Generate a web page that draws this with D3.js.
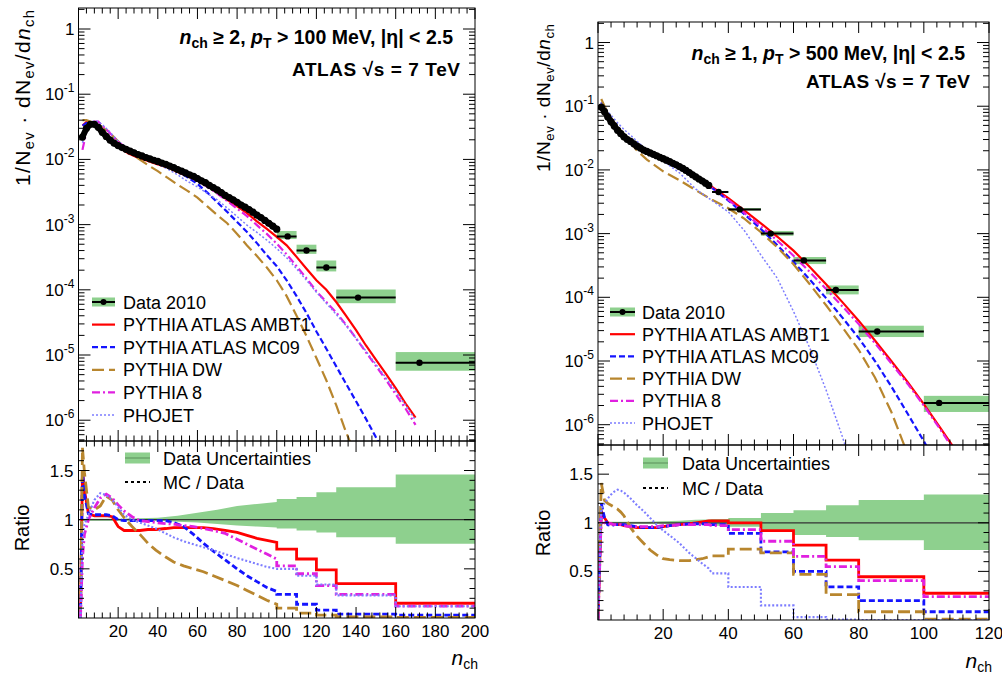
<!DOCTYPE html>
<html><head><meta charset="utf-8">
<script src="https://cdn.jsdelivr.net/npm/d3@7/dist/d3.min.js"></script>
<style>
html,body{margin:0;padding:0;background:#fff;}
svg{display:block;}
</style></head><body>
<svg id="chart" width="1002" height="675"></svg>
<script>
// ================= LEFT PANEL DATA: n_ch >= 2, pT > 100 MeV =================
const dataNL = [2,4,6,8,10,12,14,16,18,20,22,24,26,28,30,32,34,36,38,40,42,44,46,48,50,52,54,56,58,60,62,64,66,68,70,72,74,76,78,80,82,84,86,88,90,92,94,96,98,100];
const dataVL = [0.022,0.030,0.0345,0.0345,0.031,0.026,0.0225,0.0197,0.0177,0.0163,
  0.0152,0.0143,0.0134,0.0126,0.0119,0.0113,0.0107,0.0102,0.0097,0.0093,
  0.0088,0.0084,0.0079,0.0075,0.0070,0.0066,0.0062,0.0058,0.0055,0.0051,
  0.0047,0.0044,0.0040,0.0037,0.0034,0.0031,0.0028,0.0026,0.0024,0.0022,
  0.0020,0.00185,0.0017,0.00155,0.0014,0.00128,0.00116,0.00105,0.00095,0.00085];
const binEdgesL = [100,110,120,130,160,200];
const binMeanL = [105.5,115,125,141,172];
const binValL = [6.6e-4,4.0e-4,2.2e-4,7.6e-5,7.6e-6];

const mcNL = [2,4,6,8,10,12,15,20,25,30,35,40,45,50,55,60,65,70,75,80,85,90,95,100,105,110,115,120,125,130,135,140,145,150,155,160,165,170];
const mcAMBT1L = [0.033,0.0375,0.036,0.036,0.033,0.028,0.022,0.0157,0.0124,0.0106,
  0.0095,0.0084,0.0075,0.0064,0.0055,0.0047,0.0039,0.0031,0.0024,0.0019,
  0.0015,0.00112,0.00086,0.00065,4.8e-4,3.2e-4,2.1e-4,1.4e-4,1.0e-4,6.5e-5,
  4.0e-5,2.4e-5,1.4e-5,8.5e-6,5.2e-6,3.1e-6,1.8e-6,1.1e-6];
const mcMC09L = [0.033,0.036,0.0366,0.0365,0.0336,0.028,0.0225,0.0163,0.0137,0.0118,
  0.0104,0.0092,0.0080,0.0067,0.0053,0.0042,0.0031,0.0022,0.00157,0.0011,
  0.00077,0.00052,0.00034,0.00023,1.4e-4,8e-5,4.4e-5,2.3e-5,1.25e-5,6.7e-6,
  3.6e-6,1.95e-6,1.05e-6,5.5e-7,3e-7,null,null,null];
const mcDWL = [0.040,0.040,0.038,0.037,0.035,0.031,0.027,0.019,0.0135,0.0104,
  0.0082,0.0066,0.0052,0.0041,0.0033,0.0026,0.0019,0.0014,0.00105,0.00072,
  0.00048,0.00033,0.00022,0.00014,8e-5,4.0e-5,1.95e-5,9e-6,4.1e-6,1.7e-6,
  6.5e-7,2.8e-7,null,null,null,null,null,null];
const mcPY8L = [0.014,0.027,0.036,0.038,0.038,0.033,0.027,0.0185,0.0145,0.012,
  0.0103,0.009,0.0079,0.0066,0.0056,0.0047,0.0038,0.0030,0.0023,0.00176,
  0.00135,0.00098,0.00072,0.00051,3.5e-4,2.3e-4,1.5e-4,9.5e-5,6.5e-5,4.5e-5,
  2.9e-5,1.8e-5,1.1e-5,6.8e-6,4.2e-6,2.5e-6,1.5e-6,8.5e-7];
const mcPHOL = [0.018,0.030,0.037,0.039,0.038,0.034,0.028,0.019,0.0145,0.0118,
  0.0099,0.0085,0.0071,0.0058,0.0046,0.0038,0.0030,0.0024,0.0018,0.00133,
  0.00098,0.00076,0.00058,0.00043,3.1e-4,2.1e-4,1.4e-4,9.2e-5,6.2e-5,4.2e-5,
  2.8e-5,1.8e-5,1.15e-5,7.2e-6,4.5e-6,2.8e-6,1.7e-6,1.0e-6];

const ratioNL = [1,2,3,5,8,11,14,17,20,23,27,31,35,39,44,48,53,58,63,68,74,80,85,90,95,100];
const rAMBT1L = [0,1.50,1.30,1.06,1.04,1.04,1.04,1.03,0.93,0.89,0.89,0.89,0.90,0.90,0.91,0.92,0.92,0.92,0.92,0.91,0.89,0.87,0.84,0.81,0.79,0.77];
const rMC09L  = [0,1.50,1.25,1.06,1.05,1.05,1.05,1.04,1.00,0.99,0.99,0.99,0.99,0.99,0.99,0.97,0.93,0.85,0.76,0.68,0.59,0.50,0.43,0.37,0.31,0.27];
const rDWL    = [0,1.73,1.48,1.13,1.10,1.14,1.24,1.20,1.10,1.02,0.93,0.85,0.76,0.69,0.62,0.57,0.53,0.50,0.47,0.43,0.38,0.33,0.28,0.23,0.18,0.14];
const rPY8L   = [0,0.62,0.85,1.00,1.12,1.22,1.26,1.22,1.15,1.09,1.03,0.99,0.98,0.97,0.96,0.955,0.94,0.93,0.91,0.89,0.86,0.80,0.75,0.70,0.65,0.60];
const rPHOL   = [0,0.80,0.95,1.05,1.20,1.27,1.25,1.20,1.13,1.05,1.00,0.97,0.94,0.91,0.86,0.82,0.78,0.75,0.72,0.69,0.65,0.61,0.58,0.55,0.52,0.50];
const rBinAMBT1L = [0.70,0.60,0.49,0.35,0.15];
const rBinMC09L  = [0.24,0.14,0.08,0.04,0.03];
const rBinDWL    = [0.10,0.05,0.03,0.01,0.005];
const rBinPY8L   = [0.53,0.45,0.33,0.24,0.12];
const rBinPHOL   = [0.50,0.43,0.34,0.23,0.12];

const bandNL  = [2,10,20,30,40,50,60,70,80,90,100];
const bandHiL = [1.01,1.01,1.01,1.015,1.02,1.04,1.07,1.10,1.14,1.16,1.18];
const bandLoL = [0.99,0.99,0.99,0.99,0.99,0.98,0.97,0.955,0.94,0.93,0.92];
const bandBinHiL = [1.21,1.23,1.28,1.33,1.46];
const bandBinLoL = [0.91,0.89,0.87,0.82,0.755];

// ================= RIGHT PANEL DATA: n_ch >= 1, pT > 500 MeV =================
const dataNR = [1,2,3,4,5,6,7,8,9,10,11,12,13,14,15,16,17,18,19,20,21,22,23,24,25,26,27,28,29,30,31,32,33,34];
const dataVR = [0.097,0.082,0.068,0.057,0.049,0.042,0.037,0.033,0.030,0.028,
  0.0257,0.0236,0.022,0.0205,0.0195,0.0185,0.0176,0.0167,0.0158,0.015,
  0.0142,0.0135,0.0127,0.012,0.0113,0.0106,0.0098,0.0091,0.0084,0.0078,
  0.0072,0.0067,0.0062,0.0057];
const binEdgesR = [35,40,50,60,70,80,100,120];
const binMeanR = [37,43.5,53,63.2,73,85.7,104.7];
const binValR = [0.0045,0.0024,0.001,3.8e-4,1.3e-4,2.9e-5,2.2e-6];

const mcNR = [1,2,3,4,5,6,8,10,12,15,20,25,30,35,40,45,50,55,60,65,70,75,80,85,90,95,100,105,110,115,120];
const mcAMBT1R = [0.108,0.086,0.068,0.056,0.048,0.041,0.032,0.027,0.0226,0.0185,
  0.0144,0.0112,0.0078,0.0054,0.0036,0.0023,0.00145,9e-4,5.4e-4,3.0e-4,
  1.6e-4,8.4e-5,4.3e-5,2.1e-5,1.0e-5,4.7e-6,2.1e-6,9e-7,3.8e-7,1.6e-7,6.5e-8];
const mcMC09R = [0.115,0.087,0.069,0.056,0.048,0.041,0.0325,0.0275,0.023,0.019,
  0.0146,0.0112,0.0078,0.0052,0.0033,0.0020,0.00118,6.6e-4,3.6e-4,1.9e-4,
  9.7e-5,4.8e-5,2.3e-5,1.0e-5,4e-6,1.5e-6,5.5e-7,1.9e-7,6e-8,null,null];
const mcDWR = [0.13,0.10,0.08,0.066,0.056,0.048,0.036,0.0266,0.020,0.0145,
  0.0095,0.0069,0.0048,0.0034,0.0025,0.0017,0.00105,6.1e-4,3.3e-4,1.6e-4,
  7.5e-5,3.4e-5,1.5e-5,5.5e-6,1.6e-6,3.5e-7,null,null,null,null,null];
const mcPY8R = [0.10,0.083,0.068,0.057,0.049,0.042,0.033,0.0275,0.0228,0.0188,
  0.0145,0.0112,0.0077,0.0052,0.0034,0.0021,0.0013,7.8e-4,4.5e-4,2.5e-4,
  1.35e-4,7.2e-5,3.8e-5,1.9e-5,9.2e-6,4.4e-6,2e-6,8.5e-7,3.5e-7,1.4e-7,null];
const mcPHOR = [0.11,0.095,0.083,0.072,0.063,0.055,0.043,0.035,0.028,0.0205,
  0.0138,0.0090,0.0050,0.0033,0.0022,0.0011,4.6e-4,2e-4,6e-5,1.6e-5,
  3.5e-6,6.5e-7,1e-7,null,null,null,null,null,null,null,null];

const ratioNR = [0,1,2,3,4,5,6,7,8,10,12,14,16,18,20,22,25,28,30,32,34];
const rAMBT1R = [0,1.12,1.05,1.00,0.99,0.98,0.98,0.98,0.97,0.96,0.95,0.95,0.95,0.95,0.96,0.97,0.98,0.99,1.00,1.01,1.02];
const rMC09R  = [0,1.20,1.05,0.98,0.97,0.98,0.98,0.98,0.98,0.97,0.96,0.95,0.95,0.95,0.96,0.97,0.98,0.99,0.99,0.99,0.99];
const rDWR    = [0,1.41,1.23,1.20,1.18,1.16,1.14,1.11,1.07,0.95,0.86,0.79,0.72,0.67,0.63,0.62,0.61,0.61,0.62,0.63,0.65];
const rPY8R   = [0,1.05,1.00,0.99,0.99,0.98,0.98,0.98,0.97,0.96,0.96,0.96,0.96,0.96,0.97,0.97,0.98,0.98,0.98,0.98,0.98];
const rPHOR   = [0,1.15,1.20,1.25,1.29,1.32,1.34,1.33,1.31,1.25,1.18,1.12,1.05,0.98,0.92,0.87,0.79,0.69,0.635,0.58,0.53];
const rBinAMBT1R = [1.02,1.00,0.92,0.77,0.615,0.445,0.275];
const rBinMC09R  = [0.98,0.89,0.70,0.50,0.34,0.20,0.085];
const rBinDWR    = [0.66,0.73,0.69,0.47,0.26,0.085,0.01];
const rBinPY8R   = [0.97,0.93,0.81,0.655,0.55,0.405,0.24];
const rBinPHOR   = [0.48,0.34,0.15,0.03,0.004,0,0];

const bandNR  = [1,5,10,15,20,25,30,34];
const bandHiR = [1.01,1.01,1.01,1.01,1.015,1.02,1.03,1.035];
const bandLoR = [0.99,0.99,0.99,0.99,0.99,0.985,0.98,0.975];
const bandBinHiR = [1.04,1.05,1.10,1.13,1.18,1.235,1.29];
const bandBinLoR = [0.97,0.96,0.926,0.875,0.855,0.82,0.72];

// ================= LABELS =================
const seriesKeys = ["AMBT1","MC09","DW","PY8","PHO"];
const seriesNames = ["PYTHIA ATLAS AMBT1","PYTHIA ATLAS MC09","PYTHIA DW","PYTHIA 8","PHOJET"];
const dataLabel = "Data 2010";
const ratioLegendLabels = ["Data Uncertainties","MC / Data"];
const yTickExps = [0,-1,-2,-3,-4,-5,-6];
const ratioTickLabels = [0.5,1,1.5];

// ================= STYLES =================
const FONT = "'Liberation Sans', Arial, Helvetica, sans-serif";
const GREEN = "#8ed08e";
const styles = {
  AMBT1:{color:"#ff0000", width:2.2, dash:null},
  MC09:{color:"#1414ff", width:2.2, dash:"6,3"},
  DW:{color:"#b8862e", width:2.2, dash:"12,5"},
  PY8:{color:"#e020e0", width:2.2, dash:"8,3,2,3"},
  PHO:{color:"#7d7dff", width:1.5, dash:"2,2"}
};

const svg = d3.select("#chart").style("font-family", FONT);
const defs = svg.append("defs");

function drawSide(c){
  const g = svg.append("g");
  const x = d3.scaleLinear().domain(c.xDomain).range([c.xL, c.xR]);
  const y = d3.scaleLog().domain([4.8e-7, 2.1]).range([c.yMid, c.yTop]);
  const yr = d3.scaleLinear().domain([0, 1.8]).range([c.yBot, c.yMid]);

  const cm = "clipM" + c.id, cr = "clipR" + c.id;
  defs.append("clipPath").attr("id", cm).append("rect")
    .attr("x", c.xL).attr("y", c.yTop).attr("width", c.xR - c.xL).attr("height", c.yMid - c.yTop);
  defs.append("clipPath").attr("id", cr).append("rect")
    .attr("x", c.xL).attr("y", c.yMid).attr("width", c.xR - c.xL).attr("height", c.yBot - c.yMid);

  // ---------- main panel ----------
  const gm = g.append("g").attr("clip-path", `url(#${cm})`);
  c.binVal.forEach((v, i) => {
    gm.append("rect")
      .attr("x", x(c.binEdges[i])).attr("width", x(c.binEdges[i+1]) - x(c.binEdges[i]))
      .attr("y", y(v * c.bandBinHi[i])).attr("height", y(v * c.bandBinLo[i]) - y(v * c.bandBinHi[i]))
      .attr("fill", GREEN);
  });
  const lineM = d3.line().defined(d => d[1] != null && d[1] > 0).x(d => x(d[0])).y(d => y(d[1]));
  seriesKeys.forEach(k => {
    const s = styles[k];
    const pts = c.mcN.map((n, i) => [n, c.mc[k][i]]);
    gm.append("path").attr("d", lineM(pts)).attr("fill", "none")
      .attr("stroke", s.color).attr("stroke-width", s.width).attr("stroke-dasharray", s.dash);
  });
  const dpts = c.dataN.map((n, i) => [n, c.dataV[i]]);
  gm.append("path").attr("d", lineM(dpts)).attr("fill", "none").attr("stroke", "#000").attr("stroke-width", 6);
  gm.selectAll(null).data(dpts).enter().append("circle")
    .attr("cx", d => x(d[0])).attr("cy", d => y(d[1])).attr("r", 3.6).attr("fill", "#000");
  c.binVal.forEach((v, i) => {
    gm.append("line").attr("x1", x(c.binEdges[i])).attr("x2", x(c.binEdges[i+1]))
      .attr("y1", y(v)).attr("y2", y(v)).attr("stroke", "#000").attr("stroke-width", 2);
    gm.append("circle").attr("cx", x(c.binMean[i])).attr("cy", y(v)).attr("r", 3.2).attr("fill", "#000");
  });

  // ---------- ratio panel ----------
  const gr = g.append("g").attr("clip-path", `url(#${cr})`);
  const bpts = c.bandN.map((n, i) => [n, c.bandHi[i], c.bandLo[i]]);
  c.bandBinHi.forEach((h, i) => { bpts.push([c.binEdges[i], h, c.bandBinLo[i]]); bpts.push([c.binEdges[i+1], h, c.bandBinLo[i]]); });
  gr.append("path").attr("d", d3.area().x(d => x(d[0])).y0(d => yr(d[2])).y1(d => yr(d[1]))(bpts)).attr("fill", GREEN);
  gr.append("line").attr("x1", c.xL).attr("x2", c.xR).attr("y1", yr(1)).attr("y2", yr(1)).attr("stroke", "#333").attr("stroke-width", 1.3);
  const lineR = d3.line().x(d => x(d[0])).y(d => yr(d[1]));
  seriesKeys.forEach(k => {
    const s = styles[k];
    const pts = c.ratioN.map((n, i) => [n, c.ratio[k][i]]);
    c.ratioBin[k].forEach((b, i) => { pts.push([c.binEdges[i], b]); pts.push([c.binEdges[i+1], b]); });
    gr.append("path").attr("d", lineR(pts)).attr("fill", "none")
      .attr("stroke", s.color).attr("stroke-width", s.width + 0.6).attr("stroke-dasharray", s.dash);
  });

  // ---------- frames ----------
  g.append("rect").attr("x", c.xL).attr("y", c.yTop).attr("width", c.xR - c.xL).attr("height", c.yMid - c.yTop)
    .attr("fill", "none").attr("stroke", "#000").attr("stroke-width", 1);
  g.append("rect").attr("x", c.xL).attr("y", c.yMid).attr("width", c.xR - c.xL).attr("height", c.yBot - c.yMid)
    .attr("fill", "none").attr("stroke", "#000").attr("stroke-width", 1);

  // ---------- ticks ----------
  const tk = g.append("g").attr("stroke", "#000").attr("stroke-width", 1);
  const nMinor = Math.round((c.xDomain[1] - c.xDomain[0]) / c.xMinor);
  for (let i = 0; i <= nMinor; i++) {
    const v = c.xDomain[0] + i * c.xMinor;
    const major = Math.abs(v / c.xMajor - Math.round(v / c.xMajor)) < 1e-6;
    const L = major ? 11 : 5.5, px = x(v);
    [[c.yTop, 1], [c.yMid, -1], [c.yMid, 1], [c.yBot, -1]].forEach(([yy, dir]) => {
      tk.append("line").attr("x1", px).attr("x2", px).attr("y1", yy).attr("y2", yy + dir * L);
    });
  }
  for (let e = -7; e <= 0; e++) for (let m = 1; m <= 9; m++) {
    const v = m * Math.pow(10, e);
    if (v < 4.8e-7 || v > 2.1) continue;
    const L = m === 1 ? 12 : 6, py = y(v);
    tk.append("line").attr("x1", c.xL).attr("x2", c.xL + L).attr("y1", py).attr("y2", py);
    tk.append("line").attr("x1", c.xR).attr("x2", c.xR - L).attr("y1", py).attr("y2", py);
  }
  for (let k = 1; k <= 18; k++) {
    const v = k / 10, L = k % 5 === 0 ? 11 : 5.5, py = yr(v);
    tk.append("line").attr("x1", c.xL).attr("x2", c.xL + L).attr("y1", py).attr("y2", py);
    tk.append("line").attr("x1", c.xR).attr("x2", c.xR - L).attr("y1", py).attr("y2", py);
  }

  // ---------- tick labels ----------
  yTickExps.forEach(e => {
    const t = g.append("text").attr("x", c.xL - 4).attr("y", y(Math.pow(10, e)) + 6)
      .attr("text-anchor", "end").attr("font-size", 17).attr("fill", "#000");
    if (e === 0) t.text("1");
    else { t.append("tspan").text("10"); t.append("tspan").attr("font-size", 12).attr("dy", -8).text(String(e)); }
  });
  ratioTickLabels.forEach(v => {
    g.append("text").attr("x", c.xL - 5).attr("y", yr(v) + 6).attr("text-anchor", "end")
      .attr("font-size", 17).attr("fill", "#000").text(String(v));
  });
  for (let v = c.xMajor; v <= c.xDomain[1] + 1e-6; v += c.xMajor) {
    g.append("text").attr("x", x(v)).attr("y", c.yBot + 19).attr("text-anchor", "middle")
      .attr("font-size", 17).attr("fill", "#000").text(String(v));
  }

  // ---------- axis titles ----------
  const yt = g.append("text").attr("transform", `translate(${c.ytX},${c.ytY}) rotate(-90)`)
    .attr("text-anchor", "end").attr("font-size", c.ytFS).attr("fill", "#000")
    .attr("textLength", c.ytLen).attr("lengthAdjust", "spacing");
  yt.append("tspan").text("1/N");
  yt.append("tspan").attr("font-size", c.ytFS * 0.7).attr("dy", 4).text("ev");
  yt.append("tspan").attr("dy", -4).text(" \u00B7 dN");
  yt.append("tspan").attr("font-size", c.ytFS * 0.7).attr("dy", 4).text("ev");
  yt.append("tspan").attr("dy", -4).text("/d");
  yt.append("tspan").attr("font-style", "italic").text("n");
  yt.append("tspan").attr("font-size", c.ytFS * 0.7).attr("dy", 4).text("ch");

  g.append("text").attr("transform", `translate(${c.rtX},${c.rtY}) rotate(-90)`)
    .attr("text-anchor", "middle").attr("font-size", 20).attr("fill", "#000").text("Ratio");

  const xt = g.append("text").attr("x", c.xtX).attr("y", c.xtY).attr("text-anchor", "end")
    .attr("font-size", 21).attr("fill", "#000");
  xt.append("tspan").attr("font-style", "italic").text("n");
  xt.append("tspan").attr("font-size", 14).attr("dy", 4).text("ch");

  // ---------- header ----------
  const h1 = g.append("text").attr("x", c.h1X).attr("y", c.h1Y).attr("text-anchor", "end")
    .attr("font-size", 19.5).attr("font-weight", "bold").attr("fill", "#000");
  h1.append("tspan").attr("font-style", "italic").text("n");
  h1.append("tspan").attr("font-size", 14).attr("dy", 4).text("ch");
  h1.append("tspan").attr("dy", -4).text(` \u2265 ${c.nMin}, `);
  h1.append("tspan").attr("font-style", "italic").text("p");
  h1.append("tspan").attr("font-size", 14).attr("dy", 4).text("T");
  h1.append("tspan").attr("dy", -4).text(` > ${c.ptMin} MeV, |\u03B7| < 2.5`);
  g.append("text").attr("x", c.h2X).attr("y", c.h2Y).attr("text-anchor", "end")
    .attr("font-size", 19).attr("font-weight", "bold").attr("fill", "#000")
    .attr("textLength", c.h2Len).attr("lengthAdjust", "spacing").text("ATLAS \u221As = 7 TeV");

  // ---------- main legend ----------
  const lg = g.append("g");
  const ly0 = c.legY, ldy = c.legDY, lx0 = c.legX0, lx1 = c.legX1, ltx = c.legTX;
  lg.append("rect").attr("x", lx0).attr("y", ly0 - 4.5).attr("width", lx1 - lx0).attr("height", 9).attr("fill", GREEN);
  lg.append("line").attr("x1", lx0).attr("x2", lx1).attr("y1", ly0).attr("y2", ly0).attr("stroke", "#000").attr("stroke-width", 2);
  lg.append("circle").attr("cx", (lx0 + lx1) / 2).attr("cy", ly0).attr("r", 3).attr("fill", "#000");
  lg.append("text").attr("x", ltx).attr("y", ly0 + 6.5).attr("font-size", 18).attr("fill", "#000").text(dataLabel);
  seriesKeys.forEach((k, i) => {
    const s = styles[k], yy = ly0 + (i + 1) * ldy;
    lg.append("line").attr("x1", lx0).attr("x2", lx1).attr("y1", yy).attr("y2", yy)
      .attr("stroke", s.color).attr("stroke-width", s.width).attr("stroke-dasharray", s.dash);
    lg.append("text").attr("x", ltx).attr("y", yy + 6.5).attr("font-size", 18).attr("fill", "#000").text(seriesNames[i]);
  });

  // ---------- ratio legend ----------
  const rl = g.append("g");
  rl.append("rect").attr("x", c.rlX0).attr("y", c.rlY - 5.5).attr("width", c.rlX1 - c.rlX0).attr("height", 11).attr("fill", GREEN);
  rl.append("line").attr("x1", c.rlX0).attr("x2", c.rlX1).attr("y1", c.rlY).attr("y2", c.rlY).attr("stroke", "#5a8f5a").attr("stroke-width", 1);
  rl.append("text").attr("x", c.rlTX).attr("y", c.rlY + 6.5).attr("font-size", 18).attr("fill", "#000").text(ratioLegendLabels[0]);
  rl.append("line").attr("x1", c.rlX0).attr("x2", c.rlX1).attr("y1", c.rlY + c.rlDY).attr("y2", c.rlY + c.rlDY)
    .attr("stroke", "#000").attr("stroke-width", 2).attr("stroke-dasharray", "3,3");
  rl.append("text").attr("x", c.rlTX).attr("y", c.rlY + c.rlDY + 6.5).attr("font-size", 18).attr("fill", "#000").text(ratioLegendLabels[1]);
}

drawSide({
  id: "L", xDomain: [0, 200], xL: 78.5, xR: 475, yTop: 8, yMid: 441, yBot: 618,
  xMajor: 20, xMinor: 4,
  dataN: dataNL, dataV: dataVL, binEdges: binEdgesL, binMean: binMeanL, binVal: binValL,
  mcN: mcNL, mc: {AMBT1: mcAMBT1L, MC09: mcMC09L, DW: mcDWL, PY8: mcPY8L, PHO: mcPHOL},
  ratioN: ratioNL, ratio: {AMBT1: rAMBT1L, MC09: rMC09L, DW: rDWL, PY8: rPY8L, PHO: rPHOL},
  ratioBin: {AMBT1: rBinAMBT1L, MC09: rBinMC09L, DW: rBinDWL, PY8: rBinPY8L, PHO: rBinPHOL},
  bandN: bandNL, bandHi: bandHiL, bandLo: bandLoL, bandBinHi: bandBinHiL, bandBinLo: bandBinLoL,
  ytX: 30, ytY: 10, ytFS: 21, ytLen: 176, rtX: 29, rtY: 528, xtX: 478, xtY: 665,
  h1X: 453, h1Y: 44, h2X: 460, h2Y: 76, h2Len: 168, nMin: 2, ptMin: 100,
  legY: 302, legDY: 22.6, legX0: 92, legX1: 115, legTX: 123,
  rlX0: 125, rlX1: 150, rlTX: 163, rlY: 458, rlDY: 24
});
drawSide({
  id: "R", xDomain: [0, 120], xL: 598, xR: 989, yTop: 22, yMid: 445, yBot: 620,
  xMajor: 20, xMinor: 4,
  dataN: dataNR, dataV: dataVR, binEdges: binEdgesR, binMean: binMeanR, binVal: binValR,
  mcN: mcNR, mc: {AMBT1: mcAMBT1R, MC09: mcMC09R, DW: mcDWR, PY8: mcPY8R, PHO: mcPHOR},
  ratioN: ratioNR, ratio: {AMBT1: rAMBT1R, MC09: rMC09R, DW: rDWR, PY8: rPY8R, PHO: rPHOR},
  ratioBin: {AMBT1: rBinAMBT1R, MC09: rBinMC09R, DW: rBinDWR, PY8: rBinPY8R, PHO: rBinPHOR},
  bandN: bandNR, bandHi: bandHiR, bandLo: bandLoR, bandBinHi: bandBinHiR, bandBinLo: bandBinLoR,
  ytX: 550, ytY: 24, ytFS: 19, ytLen: 148, rtX: 550, rtY: 533, xtX: 992, xtY: 668,
  h1X: 965, h1Y: 60, h2X: 970, h2Y: 88, h2Len: 164, nMin: 1, ptMin: 500,
  legY: 312, legDY: 22.2, legX0: 610, legX1: 635, legTX: 642,
  rlX0: 643, rlX1: 668, rlTX: 682, rlY: 463, rlDY: 25
});
</script>
</body></html>
